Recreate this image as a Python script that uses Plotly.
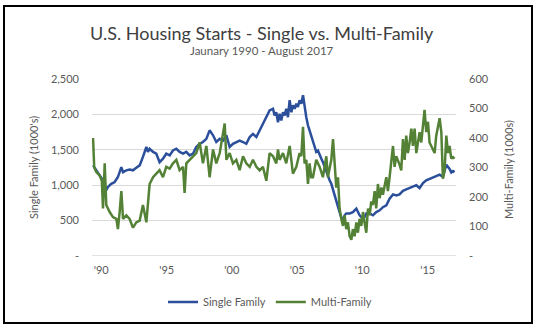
import plotly.graph_objects as go

# ---- data (x in decimal years) ----
single_years = [1990.03, 1990.28, 1990.53, 1990.79, 1991.04, 1991.17, 1991.42, 1991.68, 1991.93,
                1992.19, 1992.32, 1992.57, 1992.82, 1993.08, 1993.33, 1993.59, 1993.84, 1994.10,
                1994.22, 1994.35, 1994.61, 1994.86, 1995.11, 1995.37, 1995.62, 1995.88, 1996.13,
                1996.39, 1996.64, 1996.90, 1997.15, 1997.40, 1997.66, 1997.91, 1998.17, 1998.42,
                1998.68, 1998.93, 1999.19, 1999.44, 1999.70, 1999.95, 2000.21, 2000.46, 2000.71,
                2000.97, 2001.22, 2001.48, 2001.73, 2001.99, 2002.24, 2002.50, 2002.75, 2003.00,
                2003.26, 2003.51, 2003.77, 2003.89, 2004.02, 2004.15, 2004.27, 2004.40, 2004.53,
                2004.66, 2004.78, 2004.91, 2005.04, 2005.17, 2005.29, 2005.42, 2005.55, 2005.67,
                2005.80, 2005.93, 2006.06, 2006.18, 2006.31, 2006.44, 2006.56, 2006.69, 2006.82,
                2006.95, 2007.07, 2007.20, 2007.33, 2007.46, 2007.58, 2007.71, 2007.84, 2007.96,
                2008.09, 2008.22, 2008.35, 2008.47, 2008.60, 2008.73, 2008.85, 2008.98, 2009.11,
                2009.24, 2009.36, 2009.62, 2009.87, 2010.13, 2010.25, 2010.38, 2010.64, 2010.76,
                2010.89, 2011.15, 2011.40, 2011.65, 2011.91, 2012.16, 2012.42, 2012.67, 2012.93,
                2013.18, 2013.43, 2013.69, 2013.94, 2014.20, 2014.45, 2014.71, 2014.96, 2015.22,
                2015.47, 2015.72, 2015.98, 2016.23, 2016.49, 2016.74, 2016.87, 2017.00, 2017.25,
                2017.38, 2017.51, 2017.63]
single_family = [1280, 1210, 1140, 1070, 930, 975, 1020, 1045, 1115,
                 1255, 1185, 1210, 1220, 1210, 1245, 1280, 1400, 1540,
                 1470, 1515, 1470, 1445, 1325, 1375, 1445, 1420, 1490,
                 1515, 1470, 1445, 1470, 1420, 1445, 1540, 1585, 1610,
                 1655, 1775, 1705, 1610, 1655, 1630, 1705, 1540, 1585,
                 1610, 1630, 1610, 1585, 1680, 1725, 1680, 1775, 1870,
                 1960, 2055, 2080, 1985, 2030, 1890, 2010, 1915, 2030,
                 1985, 2080, 1960, 2200, 2030, 2130, 2080, 2150, 2105,
                 2200, 2150, 2270, 2080, 1960, 1845, 1775, 1680, 1630,
                 1540, 1470, 1490, 1420, 1375, 1325, 1255, 1185, 1140,
                 1070, 1020, 930, 855, 760, 690, 620, 550, 505,
                 575, 600, 600, 620, 670, 620, 575, 525, 550,
                 600, 600, 575, 620, 645, 690, 715, 810, 870,
                 855, 870, 920, 940, 960, 980, 1000, 960, 1030,
                 1070, 1090, 1110, 1130, 1150, 1120, 1220, 1290, 1230,
                 1180, 1200, 1185]

multi_years = [1990.03, 1990.12, 1990.28, 1990.53, 1990.70, 1990.79, 1990.92, 1991.04, 1991.30,
               1991.55, 1991.81, 1991.93, 1992.06, 1992.19, 1992.32, 1992.57, 1992.82, 1993.08,
               1993.33, 1993.59, 1993.84, 1994.10, 1994.35, 1994.61, 1994.86, 1995.11, 1995.37,
               1995.62, 1995.88, 1996.13, 1996.39, 1996.64, 1996.90, 1997.02, 1997.15, 1997.40,
               1997.66, 1997.91, 1998.17, 1998.42, 1998.68, 1998.93, 1999.19, 1999.44, 1999.70,
               1999.95, 2000.08, 2000.21, 2000.46, 2000.71, 2000.97, 2001.22, 2001.48, 2001.73,
               2001.99, 2002.24, 2002.50, 2002.75, 2003.00, 2003.26, 2003.51, 2003.77, 2004.02,
               2004.15, 2004.27, 2004.53, 2004.78, 2005.04, 2005.17, 2005.29, 2005.55, 2005.80,
               2005.93, 2006.06, 2006.18, 2006.31, 2006.44, 2006.56, 2006.69, 2006.82, 2007.07,
               2007.33, 2007.58, 2007.84, 2007.96, 2008.09, 2008.22, 2008.35, 2008.47, 2008.60,
               2008.73, 2008.85, 2008.98, 2009.11, 2009.24, 2009.36, 2009.49, 2009.62, 2009.75,
               2009.87, 2010.00, 2010.13, 2010.25, 2010.38, 2010.51, 2010.64, 2010.76, 2010.89,
               2011.02, 2011.15, 2011.27, 2011.40, 2011.53, 2011.65, 2011.78, 2011.91, 2012.04,
               2012.16, 2012.42, 2012.54, 2012.67, 2012.80, 2012.93, 2013.05, 2013.18, 2013.43,
               2013.56, 2013.69, 2013.82, 2013.94, 2014.07, 2014.20, 2014.33, 2014.45, 2014.58,
               2014.71, 2014.83, 2014.96, 2015.09, 2015.22, 2015.34, 2015.47, 2015.60, 2015.72,
               2015.85, 2015.98, 2016.11, 2016.23, 2016.36, 2016.49, 2016.62, 2016.74, 2016.87,
               2017.00, 2017.13, 2017.25, 2017.38, 2017.51, 2017.63]
multi_family = [400, 300, 285, 273, 255, 161, 314, 173, 149,
                132, 126, 91, 149, 220, 126, 138, 126, 96,
                114, 120, 173, 114, 244, 267, 279, 291, 267,
                302, 296, 314, 326, 291, 302, 214, 314, 326,
                338, 349, 385, 314, 373, 267, 361, 314, 349,
                408, 449, 326, 349, 314, 326, 291, 338, 314,
                302, 326, 302, 290, 302, 255, 349, 338, 314,
                361, 326, 349, 314, 373, 326, 279, 302, 349,
                338, 438, 314, 326, 244, 314, 267, 267, 326,
                302, 267, 338, 267, 302, 326, 396, 302, 232,
                267, 161, 126, 102, 138, 91, 114, 67, 55,
                91, 67, 114, 79, 126, 102, 149, 114, 79,
                161, 138, 185, 173, 220, 161, 244, 196, 232,
                208, 267, 220, 267, 326, 373, 302, 338, 310,
                290, 396, 326, 408, 349, 385, 432, 373, 432,
                349, 385, 420, 385, 443, 495, 420, 455, 385,
                373, 361, 349, 408, 432, 467, 420, 262, 290,
                408, 349, 373, 330, 335, 330]

left_tickvals = [0, 500, 1000, 1500, 2000, 2500]
left_ticktext = ["-", "500", "1,000", "1,500", "2,000", "2,500"]
right_tickvals = [0, 100, 200, 300, 400, 500, 600]
right_ticktext = ["-", "100", "200", "300", "400", "500", "600"]
x_tickvals = [1990.65, 1995.65, 2000.62, 2005.62, 2010.58, 2015.58]
x_ticktext = ["'90", "'95", "'00", "'05", "'10", "'15"]

FONT = "Lato"
GREY = "#595959"
BLUE = "#2C4F9B"
GREEN = "#538135"

fig = go.Figure()
fig.add_trace(go.Scatter(x=single_years, y=single_family, name="Single Family",
                         mode="lines", line=dict(color=BLUE, width=2.5), yaxis="y"))
fig.add_trace(go.Scatter(x=multi_years, y=multi_family, name="Multi-Family",
                         mode="lines", line=dict(color=GREEN, width=2.5), yaxis="y2"))

W, H = 538, 329
L, R, T, B = 92, 456, 79, 256

def px(x):
    return (x - L) / (R - L)

def py(y):
    return (B - y) / (B - T)

fig.update_layout(
    width=W, height=H,
    margin=dict(l=L, r=W - R, t=T, b=H - B, pad=0),
    paper_bgcolor="white", plot_bgcolor="white",
    font=dict(family=FONT, size=11, color=GREY),
    showlegend=True,
    legend=dict(orientation="h", x=px(270), xanchor="center", y=py(302), yanchor="middle",
                font=dict(size=11, color=GREY), itemwidth=30, traceorder="normal",
                bgcolor="rgba(0,0,0,0)"),
    xaxis=dict(range=[1989.95, 2017.74], tickvals=x_tickvals, ticktext=x_ticktext,
               showgrid=False, zeroline=False, showline=False, ticks="",
               tickfont=dict(size=11, color=GREY), ticklabelstandoff=6),
    yaxis=dict(range=[0, 2500], tickvals=left_tickvals, ticktext=left_ticktext,
               showgrid=True, gridcolor="#D9D9D9", gridwidth=1, zeroline=False,
               showline=False, ticks="", tickfont=dict(size=11, color=GREY),
               ticklabelstandoff=12),
    yaxis2=dict(range=[0, 600], tickvals=right_tickvals, ticktext=right_ticktext,
                overlaying="y", side="right", showgrid=False, zeroline=False,
                showline=False, ticks="", tickfont=dict(size=11, color=GREY),
                ticklabelstandoff=12),
    annotations=[
        dict(text="U.S. Housing Starts - Single vs. Multi-Family", xref="paper", yref="paper",
             x=px(262), y=py(33), xanchor="center", yanchor="middle", showarrow=False,
             font=dict(family=FONT, size=18, color="#404040")),
        dict(text="Jaunary 1990 - August 2017", xref="paper", yref="paper",
             x=px(262), y=py(50), xanchor="center", yanchor="middle", showarrow=False,
             font=dict(family=FONT, size=11.5, color=GREY)),
        dict(text="Single Family (1000's)", xref="paper", yref="paper",
             x=px(33), y=py(168), xanchor="center", yanchor="middle", showarrow=False,
             textangle=-90, font=dict(family=FONT, size=11, color=GREY)),
        dict(text="Multi-Family (1000s)", xref="paper", yref="paper",
             x=px(508), y=py(170), xanchor="center", yanchor="middle", showarrow=False,
             textangle=-90, font=dict(family=FONT, size=11, color=GREY)),
    ],
    shapes=[
        dict(type="line", xref="paper", yref="y", x0=0, x1=1, y0=0, y1=0,
             line=dict(color="#D9D9D9", width=1.5), layer="below"),
        dict(type="rect", xref="paper", yref="paper",
             x0=px(4), x1=px(532), y0=py(6), y1=py(323),
             line=dict(color="black", width=2), fillcolor="rgba(0,0,0,0)"),
    ],
)

fig.write_html("out.html")
